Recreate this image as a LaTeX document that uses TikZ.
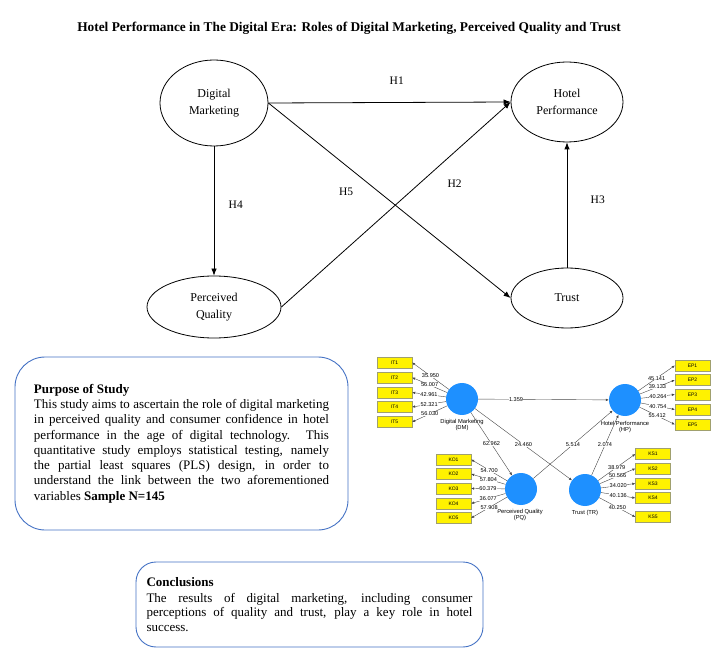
\documentclass[tikz,border=0pt]{standalone}
\usepackage{fontspec}
\setmainfont{Liberation Serif}
\newfontfamily\plsfont{Liberation Sans}
\usetikzlibrary{arrows.meta,shapes.geometric}

\definecolor{boxblue}{RGB}{68,114,196}
\definecolor{lvblue}{RGB}{30,144,255}
\definecolor{itemedge}{RGB}{160,160,110}
\definecolor{plsline}{RGB}{70,70,70}

\begin{document}
\begin{tikzpicture}[x=1pt, y=-1pt,
    main/.style = {draw, ellipse, line width=0.8pt, inner sep=0pt, align=center, font=\fontsize{12}{17.5}\selectfont},
    hyp/.style = {-{Latex[length=7pt,width=5.5pt]}, line width=0.8pt},
    hlab/.style = {font=\fontsize{11.5}{13}\selectfont},
    infobox/.style = {draw=boxblue, line width=0.9pt, align=justify, font=\fontsize{13}{15.3}\selectfont},
    lv/.style = {circle, fill=lvblue, minimum size=32pt, inner sep=0pt},
    item/.style = {draw=itemedge, fill=yellow, line width=0.3pt, minimum width=35pt, minimum height=11pt, inner sep=0pt, font=\plsfont\fontsize{5}{6}\selectfont},
    lvlab/.style = {align=center, font=\plsfont\fontsize{5.8}{6.5}\selectfont},
    load/.style = {-{Latex[length=3pt,width=2.5pt]}, line width=0.4pt, draw=plsline},
    num/.style = {fill=white, inner sep=0.4pt, font=\plsfont\fontsize{5.6}{6}\selectfont}]
\useasboundingbox (0,0) rectangle (721,663);

\node[font=\bfseries\fontsize{13.35}{15}\selectfont] (title) at (349,28) {Hotel Performance in The Digital Era: Roles of Digital Marketing, Perceived Quality and Trust};

% research model
    \node[main, minimum width=108pt, minimum height=86pt] (dm) at (214,103) {Digital\\Marketing};
    \node[main, minimum width=112pt, minimum height=80pt] (hp) at (567,102) {Hotel\\Performance};
    \node[main, minimum width=134pt, minimum height=62pt] (pq) at (214,307) {Perceived\\Quality};
    \node[main, minimum width=112pt, minimum height=60pt] (tr) at (567,298) {Trust};

\draw[hyp] (dm.east) -- (hp.west) node[pos=0.53, above=14pt, hlab] {H1};
\draw[hyp] (pq.east) -- (hp.west) node[pos=0.6, right=25pt, hlab] {H2};
\draw[hyp] (tr.north) -- (hp.south) node[pos=0.54, right=20pt, hlab] {H3};
\draw[hyp] (dm.south) -- (pq.north) node[pos=0.45, right=11pt, hlab] {H4};
\draw[hyp] (dm.east) -- (tr.west) node[pos=0.456, left=22pt, hlab] {H5};

% text boxes
\node[infobox, rounded corners=30pt, text width=295pt, minimum width=333pt, minimum height=173pt] (purpose) at (181.5,443.5)
    {\textbf{Purpose of Study}\\
    This study aims to ascertain the role of digital marketing\linebreak
    in perceived quality and consumer confidence in hotel\linebreak
    performance in the age of digital technology. This\linebreak
    quantitative study employs statistical testing, namely\linebreak
    the partial least squares (PLS) design, in order to\linebreak
    understand the link between the two aforementioned\linebreak
    variables \textbf{Sample N=145}};
\node[infobox, rounded corners=20pt, text width=326pt, minimum width=347pt, minimum height=85pt, font=\fontsize{13}{14.3}\selectfont] (concl) at (309.5,604.5)
    {\textbf{Conclusions}\\[1.5pt]
    The results of digital marketing, including consumer\linebreak
    perceptions of quality and trust, play a key role in hotel\linebreak
    success.};

% PLS bootstrapping result
    \node[lv] (dmc) at (462,399) {};
    \node[lv] (hpc) at (625,400) {};
    \node[lv] (pqc) at (521,489) {};
    \node[lv] (trc) at (585,490) {};
    \node[lvlab] (dmlab) at (462,425) {Digital Marketing\\(DM)};
    \node[lvlab] (hplab) at (625,427) {Hotel Performance\\(HP)};
    \node[lvlab] (pqlab) at (520,515) {Perceived Quality\\(PQ)};
    \node[lvlab] (trlab) at (585,513) {Trust (TR)};

    \node[item] (it1) at (394.5,362.5) {IT1};
    \node[item] (it2) at (394.5,377.5) {IT2};
    \node[item] (it3) at (394.5,392.5) {IT3};
    \node[item] (it4) at (394.5,407) {IT4};
    \node[item] (it5) at (394.5,422) {IT5};
    \node[item] (ko1) at (453.5,459.5) {KO1};
    \node[item] (ko2) at (453.5,474) {KO2};
    \node[item] (ko3) at (453.5,488.5) {KO3};
    \node[item] (ko4) at (453.5,503.5) {KO4};
    \node[item] (ko5) at (453.5,518) {KO5};
    \node[item] (ep1) at (692.5,365.5) {EP1};
    \node[item] (ep2) at (692.5,380) {EP2};
    \node[item] (ep3) at (692.5,394.5) {EP3};
    \node[item] (ep4) at (692.5,409.5) {EP4};
    \node[item] (ep5) at (692.5,424.5) {EP5};
    \node[item] (ks1) at (653,454) {KS1};
    \node[item] (ks2) at (653,468.5) {KS2};
    \node[item] (ks3) at (653,483.5) {KS3};
    \node[item] (ks4) at (653,498) {KS4};
    \node[item] (ks5) at (653,517) {KS5};

\draw[load] (dmc) -- (it1.east) node[midway, num] {35.950};
\draw[load] (dmc) -- (it2.east) node[midway, num] {56.007};
\draw[load] (dmc) -- (it3.east) node[midway, num] {42.961};
\draw[load] (dmc) -- (it4.east) node[midway, num] {52.321};
\draw[load] (dmc) -- (it5.east) node[midway, num] {56.030};
\draw[load] (pqc) -- (ko1.east) node[midway, num] {54.700};
\draw[load] (pqc) -- (ko2.east) node[midway, num] {57.804};
\draw[load] (pqc) -- (ko3.east) node[midway, num] {60.379};
\draw[load] (pqc) -- (ko4.east) node[midway, num] {36.077};
\draw[load] (pqc) -- (ko5.east) node[midway, num] {57.908};
\draw[load] (hpc) -- (ep1.west) node[midway, num] {45.141};
\draw[load] (hpc) -- (ep2.west) node[midway, num] {39.133};
\draw[load] (hpc) -- (ep3.west) node[midway, num] {40.264};
\draw[load] (hpc) -- (ep4.west) node[midway, num] {40.754};
\draw[load] (hpc) -- (ep5.west) node[midway, num] {55.412};
\draw[load] (trc) -- (ks1.west) node[midway, num] {38.979};
\draw[load] (trc) -- (ks2.west) node[midway, num] {50.566};
\draw[load] (trc) -- (ks3.west) node[midway, num] {34.020};
\draw[load] (trc) -- (ks4.west) node[midway, num] {40.136};
\draw[load] (trc) -- (ks5.west) node[midway, num] {40.250};

\draw[load] (dmc) -- (hpc) node[pos=0.29, num] {1.359};
\draw[load] (dmc) -- (pqc) node[midway, num] {62.962};
\draw[load] (dmc) -- (trc) node[midway, num] {24.460};
\draw[load] (pqc) -- (hpc) node[midway, num] {5.514};
\draw[load] (trc) -- (hpc) node[midway, num] {2.074};

\end{tikzpicture}
\end{document}
